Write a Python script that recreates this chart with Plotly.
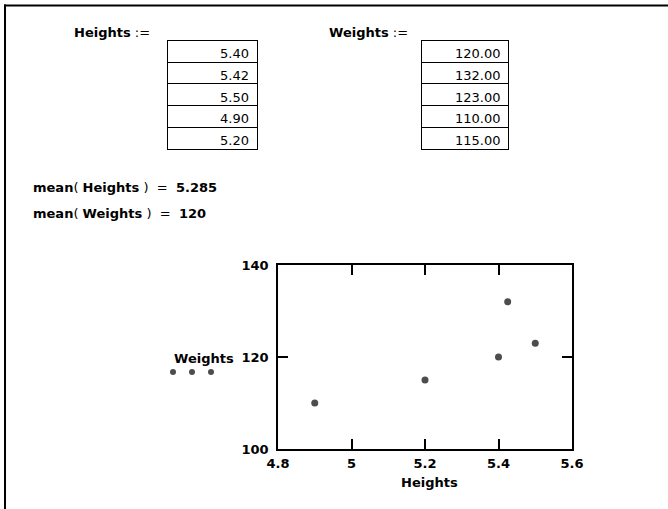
import numpy as np
import plotly.graph_objects as go

W, H = 668, 509

heights = [5.40, 5.425, 5.50, 4.90, 5.20]
weights = [120.0, 132.0, 123.0, 110.0, 115.0]
x_ticks = [4.8, 5.0, 5.2, 5.4, 5.6]
x_tick_labels = ["4.8", "5", "5.2", "5.4", "5.6"]
y_ticks = [100, 120, 140]
y_tick_labels = ["100", "120", "140"]

FONT = "DejaVu Sans"
NB = "\u00a0"


def px(x):
    return x / W


def py(y):
    return 1 - y / H


fig = go.Figure()

fig.add_trace(go.Scatter(
    x=heights, y=weights, mode="markers",
    marker=dict(size=7, color="#4d4d4d"),
    showlegend=False, hoverinfo="skip",
))

ROW_H = 21.7


def add_table(vals, x0, x1, y0):
    labels = [f"{v:.2f}" for v in vals]
    cellstyle = dict(
        align="right",
        height=ROW_H,
        line=dict(color="black", width=1),
        fill=dict(color="white"),
        font=dict(family=FONT, size=13, color="black"),
    )
    fig.add_trace(go.Table(
        domain=dict(x=[px(x0), px(x1)], y=[py(y0 + ROW_H * len(vals) + 30), py(y0)]),
        columnwidth=[1],
        header=dict(values=[labels[:1]], **cellstyle),
        cells=dict(values=[labels[1:]], **cellstyle),
    ))


add_table(heights, 167, 257, 40.5)
add_table(weights, 421.5, 509.5, 40.5)

ann = []


def text(x, y, s, size=13, xanchor="left", color="black"):
    ann.append(dict(x=px(x), y=py(y), xref="paper", yref="paper", text=s,
                    showarrow=False, xanchor=xanchor, yanchor="middle",
                    font=dict(family=FONT, size=size, color=color)))


text(72, 33, "<b>Heights</b>" + NB + ":=")
text(327, 33, "<b>Weights</b>" + NB + ":=")

mh = np.mean(heights)
mw = np.mean(weights)
text(31, 188, "<b>mean</b>(" + NB + "<b>Heights</b>" + NB + ")" + NB * 2 + "=" + NB * 2 + f"<b>{mh:.4g}</b>")
text(31, 213, "<b>mean</b>(" + NB + "<b>Weights</b>" + NB + ")" + NB * 2 + "=" + NB * 2 + f"<b>{mw:g}</b>")

text(172, 358, "<b>Weights</b>")
text(429, 482, "<b>Heights</b>", xanchor="center")

shapes = [
    dict(type="line", xref="paper", yref="paper", x0=px(4), x1=px(668), y0=py(5.5), y1=py(5.5),
         line=dict(color="black", width=2)),
    dict(type="line", xref="paper", yref="paper", x0=px(5), x1=px(5), y0=py(4.5), y1=py(509),
         line=dict(color="black", width=2)),
]
for cx in (173, 192, 211):
    shapes.append(dict(type="circle", xref="paper", yref="paper",
                       x0=px(cx - 3), x1=px(cx + 3), y0=py(372 + 3), y1=py(372 - 3),
                       fillcolor="#4d4d4d", line=dict(width=0)))

tickfont = dict(family=FONT, size=13, color="black", weight="bold")

fig.update_layout(
    template="none",
    width=W, height=H,
    margin=dict(l=0, r=0, t=0, b=0, pad=0),
    paper_bgcolor="white", plot_bgcolor="white",
    xaxis=dict(domain=[px(278), px(572)], range=[4.8, 5.6], tickvals=x_ticks, ticktext=x_tick_labels,
               ticks="inside", ticklen=10, tickwidth=1.5, tickcolor="black",
               showline=True, linecolor="black", linewidth=1.5, mirror="ticks",
               showgrid=False, zeroline=False, tickfont=tickfont, fixedrange=True, automargin=False,
               ticklabelstandoff=2),
    yaxis=dict(domain=[py(449), py(265)], range=[100, 140], tickvals=y_ticks, ticktext=y_tick_labels,
               ticks="inside", ticklen=10, tickwidth=1.5, tickcolor="black",
               showline=True, linecolor="black", linewidth=1.5, mirror="ticks",
               showgrid=False, zeroline=False, tickfont=tickfont, fixedrange=True, automargin=False,
               ticklabelstandoff=5),
    annotations=ann,
    shapes=shapes,
    showlegend=False,
)

fig.write_html("out.html", config=dict(displayModeBar=False),
               post_script="document.body.style.margin='0';document.body.style.overflow='hidden';")
